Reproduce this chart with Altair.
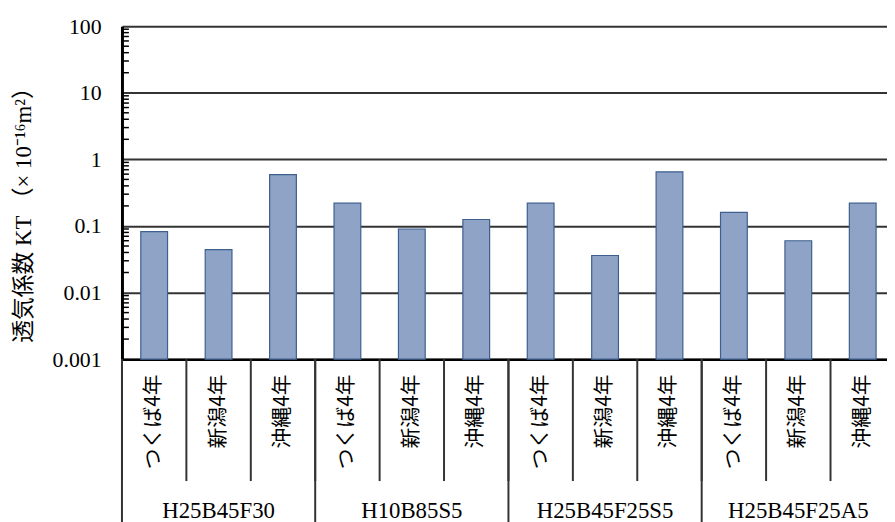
import altair as alt
import pandas as pd

groups = ["H25B45F30", "H10B85S5", "H25B45F25S5", "H25B45F25A5"]
sites = ["つくば4年", "新潟4年", "沖縄4年"]
values = [0.082, 0.044, 0.59,
          0.22, 0.09, 0.125,
          0.22, 0.036, 0.65,
          0.16, 0.06, 0.22]
y_ticks = [0.001, 0.01, 0.1, 1, 10, 100]
y_title = "透気係数 KT （× 10⁻¹⁶m²）"

keys = [f"{g}|{s}" for g in groups for s in sites]
df = pd.DataFrame({"key": keys, "value": values})
minor = pd.DataFrame({"m": [k * 10.0 ** d for d in range(-3, 2) for k in range(2, 10)]})
grp_start = pd.DataFrame({"key": [f"{g}|{sites[0]}" for g in groups]})
grp_mid = pd.DataFrame({"key": [f"{g}|{sites[1]}" for g in groups], "label": groups})

xscale = alt.Scale(domain=keys, range=[0, 780], paddingInner=0, paddingOuter=0)
yscale = alt.Scale(type="log", domain=[0.001, 100])
serif = "Liberation Serif, Noto Sans CJK JP"

bars = alt.Chart(df).mark_bar(width=27, fill="#8ea3c6", stroke="#3f5f8e", strokeWidth=1.2).encode(
    x=alt.X("key:N", scale=xscale, title=None,
            axis=alt.Axis(labelExpr="split(datum.label, '|')[1]", labelAngle=270,
                          labelAlign="right", labelBaseline="middle", labelPadding=15,
                          labelFont="Noto Sans CJK JP", labelFontSize=21, labelColor="black",
                          labelOverlap=False, ticks=False, domainColor="black",
                          domainWidth=2.5, grid=False)),
    y=alt.Y("value:Q", scale=yscale, title=y_title,
            axis=alt.Axis(values=y_ticks, format="~g", ticks=False, labelPadding=21,
                          labelFont="Liberation Serif", labelFontSize=22, labelColor="black",
                          labelOverlap=False, labelFlush=False,
                          domainColor="black", domainWidth=3,
                          grid=True, gridColor="#333333", gridWidth=2,
                          titleFont=serif, titleFontSize=23, titleFontWeight="normal",
                          titleColor="black", titleAngle=270, titleX=-99, titleY=319,
                          titleAlign="left", titleBaseline="middle")),
    y2=alt.datum(0.001),
)

minor_ticks = alt.Chart(minor).mark_rule(color="black", strokeWidth=1.5).encode(
    y=alt.Y("m:Q", scale=yscale),
    x=alt.value(0),
    x2=alt.value(7),
)

seps = alt.Chart(df).mark_rule(color="#333333", strokeWidth=2).encode(
    x=alt.X("key:N", scale=xscale, bandPosition=0),
    y=alt.datum(0.001),
    y2=alt.value(459),
)

gseps = alt.Chart(grp_start).mark_rule(color="#333333", strokeWidth=2).encode(
    x=alt.X("key:N", scale=xscale, bandPosition=0),
    y=alt.datum(0.001),
    y2=alt.value(700),
)

glabels = alt.Chart(grp_mid).mark_text(font="Liberation Serif", fontSize=23, color="black",
                                       baseline="alphabetic", align="center").encode(
    x=alt.X("key:N", scale=xscale),
    y=alt.value(496),
    text="label:N",
)

chart = alt.layer(bars, minor_ticks, seps, gseps, glabels).properties(
    width=772, height=336,
    autosize=alt.AutoSizeParams(type="none"),
    padding={"left": 115, "top": 16, "right": 0, "bottom": 162},
).configure_view(stroke=None)

chart.save("out.html", embed_options={"renderer": "svg", "actions": False})
